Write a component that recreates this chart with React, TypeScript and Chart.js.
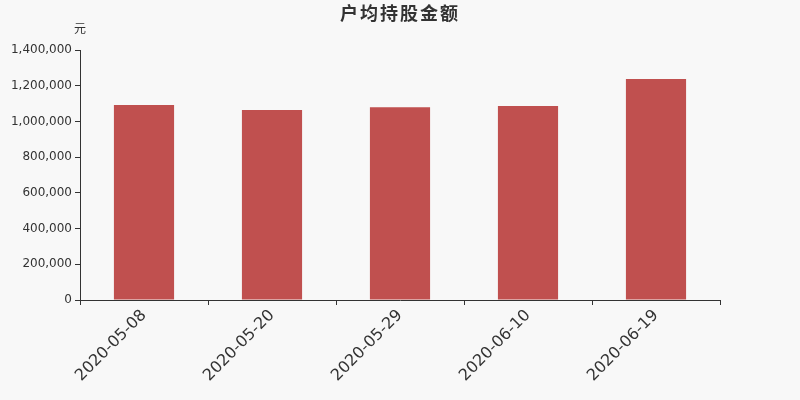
import React, { useEffect, useRef } from "react";
import { Chart, registerables } from "chart.js";

Chart.register(...registerables);

const categories = ["2020-05-08", "2020-05-20", "2020-05-29", "2020-06-10", "2020-06-19"];
const values = [1092000, 1064000, 1079000, 1086000, 1237000];
const titleText = "户均持股金额";
const unitText = "元";
const yMax = 1400000;
const yStep = 200000;

const textPlugin = {
  id: "textPlugin",
  beforeDraw(chart: any) {
    const { ctx, width, height } = chart;
    ctx.save();
    ctx.fillStyle = "#f8f8f8";
    ctx.fillRect(0, 0, width, height);
    ctx.restore();
  },
  afterDraw(chart: any) {
    const { ctx } = chart;
    ctx.save();
    ctx.fillStyle = "#333333";
    ctx.textAlign = "center";
    ctx.textBaseline = "middle";
    ctx.font = "bold 18px 'Noto Sans CJK SC', 'DejaVu Sans', sans-serif";
    if ((ctx as any).letterSpacing !== undefined) (ctx as any).letterSpacing = "2px";
    ctx.fillText(titleText, 400, 13);
    if ((ctx as any).letterSpacing !== undefined) (ctx as any).letterSpacing = "0px";
    ctx.font = "12px 'Noto Sans CJK SC', 'DejaVu Sans', sans-serif";
    ctx.fillText(unitText, 80, 28);
    ctx.restore();
  },
};

export default function App() {
  const ref = useRef<HTMLCanvasElement>(null);
  useEffect(() => {
    if (!ref.current) return;
    const chart = new Chart(ref.current, {
      type: "bar",
      data: {
        labels: categories,
        datasets: [
          {
            data: values,
            backgroundColor: "#c0504f",
            categoryPercentage: 1,
            barPercentage: 0.47,
          },
        ],
      },
      options: {
        animation: false,
        responsive: false,
        maintainAspectRatio: false,
        layout: { padding: { top: 50, right: 80, left: 0, bottom: 0 } },
        plugins: {
          legend: { display: false },
          title: { display: false },
          tooltip: { enabled: false },
        },
        scales: {
          x: {
            offset: true,
            grid: {
              display: true,
              offset: true,
              drawOnChartArea: false,
              drawTicks: true,
              tickLength: 5,
              color: "#333333",
            },
            border: { display: true, color: "#333333" },
            ticks: {
              color: "#333333",
              font: { family: "'DejaVu Sans', sans-serif", size: 16 },
              maxRotation: 45,
              minRotation: 45,
              padding: 1,
            },
            afterFit(scale: any) {
              scale.height = 100;
            },
          },
          y: {
            min: 0,
            max: yMax,
            grid: {
              display: true,
              drawOnChartArea: false,
              drawTicks: true,
              tickLength: 5,
              color: "#333333",
            },
            border: { display: true, color: "#333333" },
            ticks: {
              stepSize: yStep,
              color: "#333333",
              padding: 3,
              font: { family: "'DejaVu Sans', sans-serif", size: 12 },
              callback: (v: any) => Number(v).toLocaleString("en-US"),
            },
            afterFit(scale: any) {
              scale.width = 80;
            },
          },
        },
      },
      plugins: [textPlugin],
    });
    return () => chart.destroy();
  }, []);
  return (
    <div style={{ position: "fixed", left: 0, top: 0, width: 800, height: 400, background: "#f8f8f8" }}>
      <canvas ref={ref} width={800} height={400} style={{ width: 800, height: 400 }} />
    </div>
  );
}
